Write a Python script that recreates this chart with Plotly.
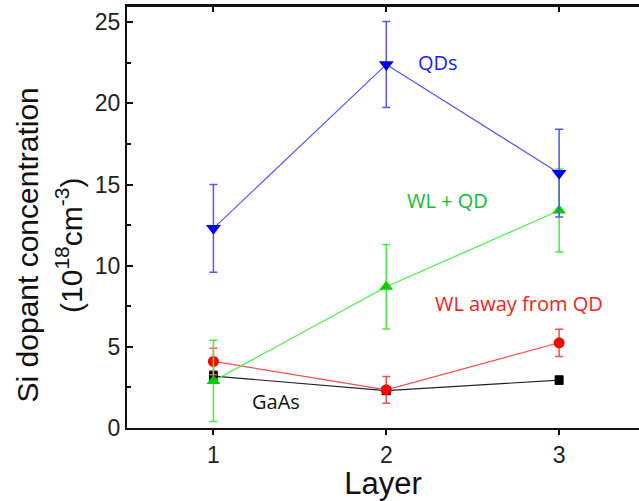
import plotly.graph_objects as go

# Layer index along the growth direction
layers = [1, 2, 3]

# Si dopant concentration (1e18 cm^-3) and uncertainties per region
qds = [12.3, 22.4, 15.7]
qds_err = [2.7, 2.65, 2.7]

wl_qd = [2.9, 8.7, 13.4]
wl_qd_err = [2.5, 2.6, 2.55]

wl_away = [4.1, 2.35, 5.25]
wl_away_err = [0.82, 0.83, 0.84]

gaas = [3.2, 2.3, 2.95]
gaas_err = [0.3, 0.2, 0.25]

x_ticks = [1, 2, 3]
y_ticks = [0, 5, 10, 15, 20, 25]
x_range = [0.5, 3.462]

series = [
    # name, values, errors, line colour, marker colour, symbol, size
    ("GaAs", gaas, gaas_err, "#222222", "#000000", "square", 9),
    ("WL away from QD", wl_away, wl_away_err, "#ff4d4d", "#ff0000", "circle", 11),
    ("WL + QD", wl_qd, wl_qd_err, "#44ee44", "#00d000", "triangle-up", 12),
    ("QDs", qds, qds_err, "#5555ff", "#0000ee", "triangle-down", 13),
]

fig = go.Figure()
for name, vals, errs, lc, mc, sym, sz in series:
    fig.add_trace(go.Scatter(
        x=layers, y=vals, name=name, mode="lines+markers",
        line=dict(color=lc, width=1.2),
        marker=dict(color=mc, symbol=sym, size=sz, line=dict(width=0)),
        error_y=dict(type="data", array=errs, visible=True,
                     color=lc, thickness=1.5, width=4),
        showlegend=False, hoverinfo="skip",
    ))

# invisible carrier trace for the top axis (inward tick marks)
fig.add_trace(go.Scatter(x=layers, y=gaas, xaxis="x2", yaxis="y",
                         mode="markers", marker=dict(size=1, opacity=0),
                         showlegend=False, hoverinfo="skip"))

label_font = "Liberation Sans, Arial, sans-serif"
note_font = "Open Sans, Noto Sans, sans-serif"

labels = [
    ("QDs", 2.30, 22.5, "#1a1aff"),
    ("WL + QD", 2.357, 14.0, "#11bb33"),
    ("WL away from QD", 2.77, 7.7, "#ff1a1a"),
    ("GaAs", 1.36, 1.65, "#111111"),
]
for txt, x, y, c in labels:
    fig.add_annotation(x=x, y=y, text=txt, showarrow=False,
                       font=dict(family=note_font, size=20, color=c),
                       xanchor="center", yanchor="middle")

# two-line y-axis title
fig.add_annotation(xref="paper", yref="paper", x=-0.195, y=0.433,
                   text="Si dopant concentration", textangle=-90,
                   showarrow=False, xanchor="center", yanchor="middle",
                   font=dict(family=label_font, size=30, color="#111"))
fig.add_annotation(xref="paper", yref="paper", x=-0.112, y=0.433,
                   text="(10<sup>18</sup>cm<sup>-3</sup>)", textangle=-90,
                   showarrow=False, xanchor="center", yanchor="middle",
                   font=dict(family=label_font, size=30, color="#111"))

# top frame edge
fig.add_shape(type="line", xref="paper", yref="paper", x0=0, x1=1, y0=1, y1=1,
              line=dict(color="#111", width=2), layer="above")

fig.update_layout(
    width=639, height=501,
    margin=dict(l=127, r=0, t=6, b=73),
    paper_bgcolor="white", plot_bgcolor="white",
    font=dict(family=label_font, color="#222"),
    xaxis=dict(
        range=x_range, tickvals=x_ticks, ticks="outside",
        ticklen=5, tickwidth=1.5, tickcolor="#111",
        showline=True, mirror=True, linecolor="#111", linewidth=2,
        showgrid=False, zeroline=False,
        tickfont=dict(size=23, color="#222"),
        title=dict(text="Layer", font=dict(size=31, color="#111"), standoff=4),
    ),
    xaxis2=dict(
        overlaying="x", anchor="y", side="top", range=x_range,
        tickvals=x_ticks, ticks="inside", ticklen=6, tickwidth=2,
        tickcolor="#111", showticklabels=False,
        showline=True, linecolor="#111", linewidth=2,
        showgrid=False, zeroline=False,
    ),
    yaxis=dict(
        range=[0, 26], tickvals=y_ticks, ticks="inside",
        ticklen=6, tickwidth=1.5, tickcolor="#111",
        minor=dict(dtick=2.5, ticks="inside", ticklen=4, tickwidth=1.5,
                   tickcolor="#111", showgrid=False),
        showline=True, linecolor="#111", linewidth=2,
        showgrid=False, zeroline=False,
        tickfont=dict(size=23, color="#222"),
    ),
)

fig.write_html("out.html")
